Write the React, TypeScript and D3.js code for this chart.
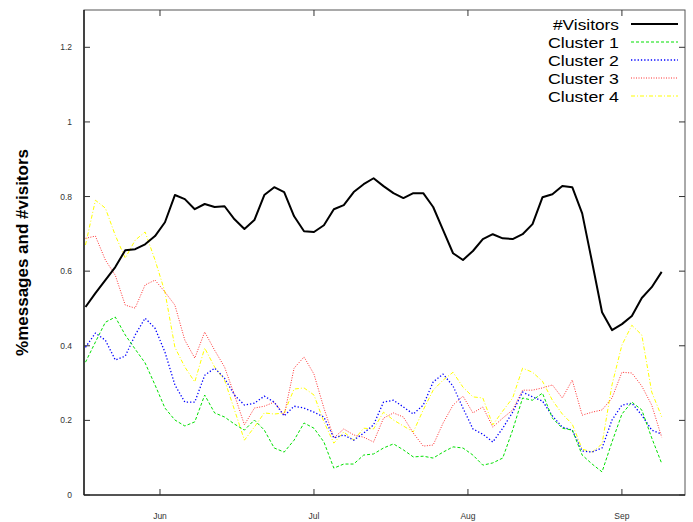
import React, { useEffect, useRef } from 'react';
import * as d3 from 'd3';

const width = 693;
const height = 522;
const margin = { top: 10, right: 8, bottom: 27, left: 84 };

// one sample every 2 days, first sample = day 0 (mid May)
const sampleStep = 2;
const monthLabels = ['Jun', 'Jul', 'Aug', 'Sep'];
const monthDays = [15, 46, 77, 108];
const yTicks = [0, 0.2, 0.4, 0.6, 0.8, 1, 1.2];

const visitors = [
  0.504, 0.541, 0.576, 0.611, 0.656, 0.659, 0.672, 0.694, 0.731, 0.804,
  0.793, 0.766, 0.780, 0.772, 0.774, 0.739, 0.713, 0.737, 0.804, 0.825,
  0.812, 0.747, 0.707, 0.705, 0.723, 0.766, 0.777, 0.812, 0.833, 0.849,
  0.828, 0.809, 0.796, 0.809, 0.809, 0.772, 0.710, 0.648, 0.630, 0.654,
  0.686, 0.699, 0.688, 0.686, 0.699, 0.726, 0.798, 0.806, 0.828, 0.825,
  0.755, 0.624, 0.490, 0.442, 0.458, 0.480, 0.528, 0.557, 0.598,
];
const cluster1 = [
  0.356, 0.410, 0.463, 0.477, 0.429, 0.391, 0.354, 0.295, 0.233, 0.201,
  0.185, 0.196, 0.268, 0.220, 0.209, 0.190, 0.174, 0.201, 0.174, 0.126,
  0.115, 0.147, 0.193, 0.179, 0.142, 0.072, 0.083, 0.083, 0.107, 0.110,
  0.126, 0.137, 0.121, 0.102, 0.104, 0.099, 0.115, 0.129, 0.126, 0.107,
  0.080, 0.086, 0.099, 0.174, 0.260, 0.254, 0.273, 0.206, 0.179, 0.174,
  0.107, 0.083, 0.062, 0.142, 0.217, 0.249, 0.228, 0.153, 0.085,
];
const cluster2 = [
  0.396, 0.434, 0.415, 0.362, 0.372, 0.429, 0.474, 0.447, 0.383, 0.295,
  0.249, 0.249, 0.321, 0.340, 0.313, 0.268, 0.241, 0.246, 0.265, 0.249,
  0.212, 0.238, 0.233, 0.222, 0.209, 0.153, 0.161, 0.147, 0.166, 0.188,
  0.249, 0.254, 0.236, 0.217, 0.241, 0.303, 0.324, 0.292, 0.233, 0.177,
  0.163, 0.142, 0.179, 0.222, 0.276, 0.263, 0.252, 0.212, 0.182, 0.174,
  0.118, 0.115, 0.126, 0.201, 0.241, 0.246, 0.214, 0.174, 0.163,
];
const cluster3 = [
  0.688, 0.694, 0.630, 0.589, 0.509, 0.501, 0.563, 0.576, 0.544, 0.509,
  0.415, 0.367, 0.437, 0.388, 0.343, 0.268, 0.188, 0.233, 0.238, 0.249,
  0.214, 0.340, 0.370, 0.324, 0.233, 0.153, 0.177, 0.161, 0.155, 0.142,
  0.206, 0.220, 0.209, 0.166, 0.131, 0.134, 0.193, 0.241, 0.265, 0.220,
  0.236, 0.182, 0.206, 0.228, 0.281, 0.281, 0.287, 0.295, 0.260, 0.308,
  0.214, 0.222, 0.228, 0.260, 0.329, 0.327, 0.292, 0.241, 0.155,
];
const cluster4 = [
  0.670, 0.790, 0.769, 0.696, 0.635, 0.683, 0.705, 0.630, 0.544, 0.396,
  0.343, 0.303, 0.394, 0.343, 0.308, 0.228, 0.147, 0.182, 0.220, 0.217,
  0.220, 0.284, 0.287, 0.268, 0.196, 0.139, 0.169, 0.147, 0.179, 0.177,
  0.222, 0.201, 0.185, 0.169, 0.228, 0.281, 0.308, 0.329, 0.289, 0.263,
  0.260, 0.188, 0.225, 0.260, 0.340, 0.329, 0.305, 0.254, 0.217, 0.190,
  0.123, 0.115, 0.137, 0.295, 0.402, 0.455, 0.429, 0.276, 0.210,
];

const seriesNames = ['#Visitors', 'Cluster 1', 'Cluster 2', 'Cluster 3', 'Cluster 4'];
const seriesValues = [visitors, cluster1, cluster2, cluster3, cluster4];
const seriesColors = ['#000000', '#00e000', '#0000ff', '#ff3030', '#ffff00'];
const seriesWidths = [2, 1, 1.3, 1, 1];
const seriesDash = [null, '3,2', '1.3,2', '1,1.5', '4,2,1,2'];

const Chart = () => {
  const ref = useRef<SVGGElement>(null);

  useEffect(() => {
    const g = d3.select(ref.current);
    g.selectAll('*').remove();

    const x = d3.scaleLinear().domain([-0.3, 120.7]).range([margin.left, width - margin.right]);
    const y = d3.scaleLinear().domain([0, 1.3]).range([height - margin.bottom, margin.top]);
    const x0 = margin.left, x1 = width - margin.right;
    const y0 = height - margin.bottom, y1 = margin.top;

    // frame
    g.append('rect')
      .attr('x', x0).attr('y', y1)
      .attr('width', x1 - x0).attr('height', y0 - y1)
      .attr('fill', 'none').attr('stroke', '#555').attr('stroke-width', 1);
    g.append('line').attr('x1', x0).attr('x2', x1).attr('y1', y0).attr('y2', y0)
      .attr('stroke', '#000').attr('stroke-width', 1.2);
    g.append('line').attr('x1', x0).attr('x2', x0).attr('y1', y0).attr('y2', y1)
      .attr('stroke', '#000').attr('stroke-width', 1.2);

    // y ticks
    const fmt = d3.format('~g');
    yTicks.forEach(t => {
      g.append('line').attr('x1', x0).attr('x2', x0 + 6).attr('y1', y(t)).attr('y2', y(t))
        .attr('stroke', '#333');
      g.append('line').attr('x1', x1).attr('x2', x1 - 6).attr('y1', y(t)).attr('y2', y(t))
        .attr('stroke', '#333');
      g.append('text')
        .attr('x', x0 - 12).attr('y', y(t) + 3)
        .attr('text-anchor', 'end')
        .attr('font-size', 8.5)
        .attr('fill', '#333')
        .text(fmt(t));
    });

    // x ticks
    monthDays.forEach((d, i) => {
      g.append('line').attr('x1', x(d)).attr('x2', x(d)).attr('y1', y0).attr('y2', y0 - 6)
        .attr('stroke', '#333');
      g.append('line').attr('x1', x(d)).attr('x2', x(d)).attr('y1', y1).attr('y2', y1 + 6)
        .attr('stroke', '#333');
      g.append('text')
        .attr('x', x(d)).attr('y', y0 + 24)
        .attr('text-anchor', 'middle')
        .attr('font-size', 8.5)
        .attr('fill', '#333')
        .text(monthLabels[i]);
    });

    // y title
    g.append('text')
      .attr('transform', `translate(28, ${(y0 + y1) / 2}) rotate(-90)`)
      .attr('text-anchor', 'middle')
      .attr('font-size', 17)
      .attr('font-weight', 'bold')
      .text('%messages and #visitors');

    const line = d3.line<number>()
      .x((d, i) => x(i * sampleStep))
      .y(d => y(d));

    // draw clusters first, visitors on top
    [4, 3, 2, 1, 0].forEach(s => {
      g.append('path')
        .datum(seriesValues[s])
        .attr('d', line)
        .attr('fill', 'none')
        .attr('stroke', seriesColors[s])
        .attr('stroke-width', seriesWidths[s])
        .attr('stroke-dasharray', seriesDash[s])
        .attr('stroke-linejoin', 'round');
    });

    // legend
    seriesNames.forEach((name, i) => {
      const ly = 24 + i * 18;
      g.append('text')
        .attr('x', 619).attr('y', ly + 5.5)
        .attr('text-anchor', 'end')
        .attr('font-size', 15.5)
        .attr('textLength', name === '#Visitors' ? 66 : 71)
        .attr('lengthAdjust', 'spacingAndGlyphs')
        .text(name);
      g.append('line')
        .attr('x1', 631).attr('x2', 678).attr('y1', ly).attr('y2', ly)
        .attr('stroke', seriesColors[i])
        .attr('stroke-width', seriesWidths[i])
        .attr('stroke-dasharray', seriesDash[i]);
    });
  }, []);

  return (
    <svg width={width} height={height}
      style={{ position: 'absolute', left: 0, top: 0, fontFamily: 'Liberation Sans, Arial, sans-serif' }}>
      <rect width={width} height={height} fill="#fff" />
      <g ref={ref} />
    </svg>
  );
};

export default function App() {
  return <Chart />;
}
